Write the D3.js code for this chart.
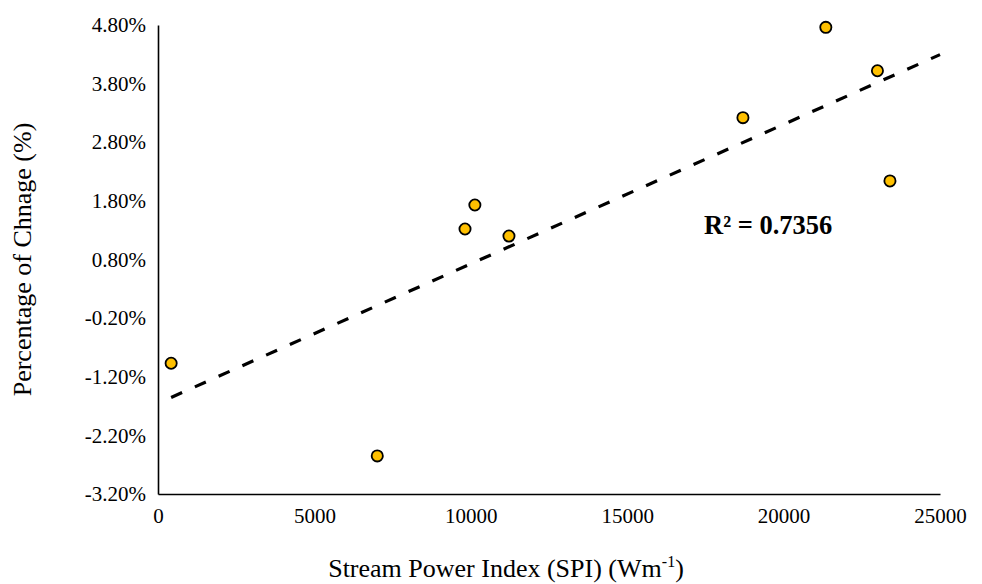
<!DOCTYPE html>
<html>
<head>
<meta charset="utf-8">
<script src="https://cdn.jsdelivr.net/npm/d3@7"></script>
<style>
  html, body { margin: 0; padding: 0; background: #fff; }
  svg { display: block; }
  text { font-family: "Liberation Serif", "Times New Roman", serif; fill: #000; }
</style>
</head>
<body>
<svg id="chart" width="982" height="584"></svg>
<script>
// ---- data ----
const spi = [420, 7010, 9815, 10130, 11220, 18700, 21350, 23000, 23400];
const pctChange = [-0.97, -2.55, 1.32, 1.73, 1.20, 3.22, 4.76, 4.02, 2.14];
const xTicks = [0, 5000, 10000, 15000, 20000, 25000];
const yTicks = [-3.2, -2.2, -1.2, -0.2, 0.8, 1.8, 2.8, 3.8, 4.8];
const r2Label = "R² = 0.7356";
const xTitle = "Stream Power Index (SPI) (Wm";
const xTitleSup = "-1";
const yTitle = "Percentage of Chnage (%)";

// ---- layout ----
const W = 982, H = 584;
const m = { left: 158, top: 25, right: 42, bottom: 90 };
const pw = W - m.left - m.right, ph = H - m.top - m.bottom;

const svg = d3.select("#chart");
const g = svg.append("g").attr("transform", `translate(${m.left},${m.top})`);

const x = d3.scaleLinear().domain([0, 25000]).range([0, pw]);
const y = d3.scaleLinear().domain([-3.2, 4.8]).range([ph, 0]);

// axes
const xAxis = d3.axisBottom(x).tickValues(xTicks).tickSize(0).tickPadding(14)
  .tickFormat(d => String(d));
const yAxis = d3.axisLeft(y).tickValues(yTicks).tickSize(0).tickPadding(12)
  .tickFormat(d => d.toFixed(2) + "%");

const gx = g.append("g").attr("transform", `translate(0,${ph})`).call(xAxis);
const gy = g.append("g").call(yAxis);
[gx, gy].forEach(a => {
  a.select(".domain").attr("stroke", "#000").attr("stroke-width", 1.6);
  a.selectAll("text").style("font-size", "21px").style("font-family", "Liberation Serif").attr("fill", "#000");
});

// trendline (least squares)
const n = spi.length;
const mx = d3.mean(spi), my = d3.mean(pctChange);
let sxy = 0, sxx = 0;
for (let i = 0; i < n; i++) { sxy += (spi[i] - mx) * (pctChange[i] - my); sxx += (spi[i] - mx) ** 2; }
const slope = sxy / sxx, intercept = my - slope * mx;
const x0 = d3.min(spi), x1 = 25000;
g.append("line")
  .attr("x1", x(x0)).attr("y1", y(intercept + slope * x0))
  .attr("x2", x(x1)).attr("y2", y(intercept + slope * x1))
  .attr("stroke", "#000").attr("stroke-width", 3.2)
  .attr("stroke-dasharray", "12,14");

// points
g.selectAll("circle.pt").data(spi).join("circle")
  .attr("class", "pt")
  .attr("cx", (d) => x(d))
  .attr("cy", (d, i) => y(pctChange[i]))
  .attr("r", 5.6)
  .attr("fill", "#FFC000")
  .attr("stroke", "#000")
  .attr("stroke-width", 1.8);

// R² label
svg.append("text")
  .attr("x", 704).attr("y", 234)
  .style("font-size", "26.5px").style("font-weight", "bold")
  .text(r2Label);

// x title
const xt = svg.append("text")
  .attr("x", 506).attr("y", 577)
  .attr("text-anchor", "middle")
  .style("font-size", "26px");
xt.append("tspan").text(xTitle);
xt.append("tspan").attr("dy", -10).style("font-size", "16px").text(xTitleSup);
xt.append("tspan").attr("dy", 10).text(")");

// y title
svg.append("text")
  .attr("transform", `translate(31,${m.top + ph / 2}) rotate(-90)`)
  .attr("text-anchor", "middle")
  .style("font-size", "26px")
  .text(yTitle);
</script>
</body>
</html>
